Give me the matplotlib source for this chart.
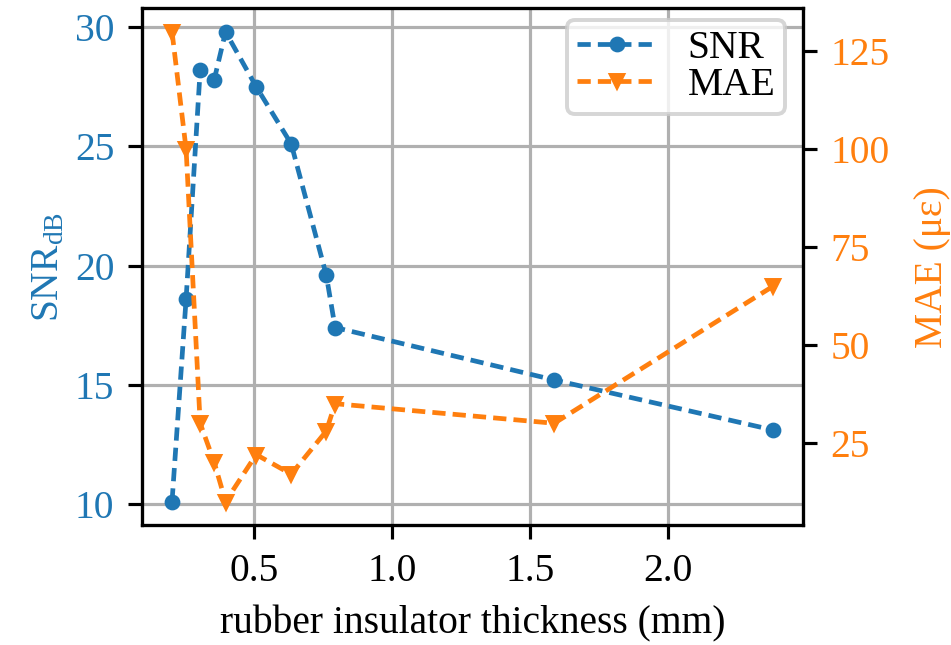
import matplotlib
matplotlib.use("Agg")
import matplotlib.pyplot as plt

# insulator thickness in mm (inch stock sizes converted)
thickness_mm = [0.203, 0.254, 0.305, 0.356, 0.397, 0.508, 0.635, 0.762, 0.794, 1.588, 2.381]
snr_db = [10.1, 18.6, 28.2, 27.8, 29.8, 27.5, 25.1, 19.6, 17.4, 15.2, 13.1]
mae_ue = [130, 100, 30, 20, 10, 22, 17, 28, 35, 30, 65]

snr_color = "tab:blue"
mae_color = "tab:orange"

plt.rcParams["font.family"] = ["Liberation Serif", "DejaVu Serif"]
plt.rcParams["mathtext.fontset"] = "custom"
plt.rcParams["mathtext.rm"] = "Liberation Serif"
plt.rcParams["mathtext.it"] = "Liberation Serif:italic"
plt.rcParams["font.size"] = 10

dpi = 284
fig, ax1 = plt.subplots(figsize=(951 / dpi, 645 / dpi), dpi=dpi)
fig.subplots_adjust(left=0.1493, right=0.8444, bottom=0.186, top=0.987)

dash = (2.8, 1.5)
ln1, = ax1.plot(thickness_mm, snr_db, "--o", color=snr_color, lw=1.2, ms=3,
                dashes=dash, label="SNR")
ax1.set_xlabel("rubber insulator thickness (mm)")
ax1.set_ylabel(r"SNR$_{\mathrm{dB}}$", color=snr_color, labelpad=2)
ax1.tick_params(axis="y", labelcolor=snr_color)
ax1.set_yticks([10, 15, 20, 25, 30])
ax1.grid(True)

ax2 = ax1.twinx()
ln2, = ax2.plot(thickness_mm, mae_ue, "--v", color=mae_color, lw=1.2, ms=3.2,
                dashes=dash, label="MAE")
ax2.set_ylabel("MAE (\u03bc\u03b5)", color=mae_color, labelpad=6)
ax2.tick_params(axis="y", labelcolor=mae_color)
ax2.set_yticks([25, 50, 75, 100, 125])

ax2.legend(handles=[ln1, ln2], loc="upper right", bbox_to_anchor=(0.973, 0.977),
           borderpad=0.25, labelspacing=0.0, borderaxespad=0.0)

fig.savefig("out.png", dpi=dpi)
